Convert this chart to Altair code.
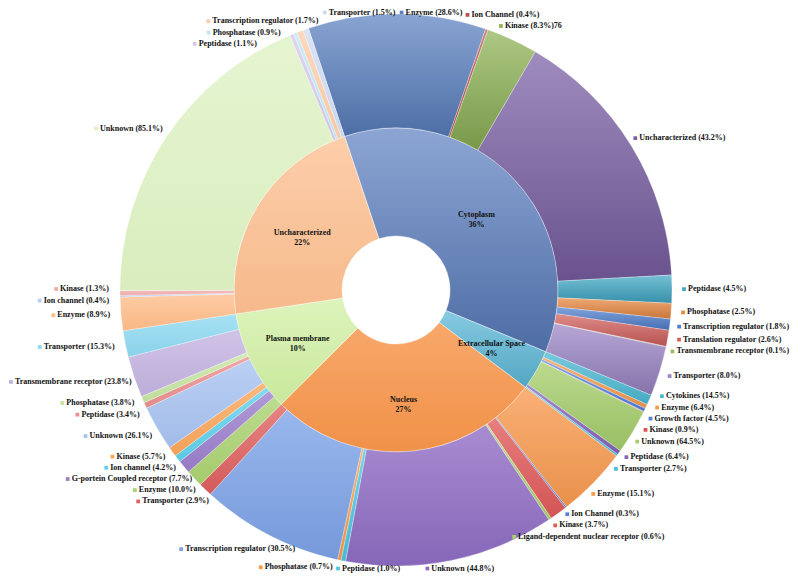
import math
import altair as alt
import pandas as pd

# ---------------- data ----------------
parents = ["Cytoplasm", "Extracellular Space", "Nucleus", "Plasma membrane", "Uncharacterized"]
parent_pct = [36, 4, 27, 10, 22]

cyt_names = ["Enzyme", "Ion Channel", "Kinase", "Uncharacterized", "Peptidase", "Phosphatase",
             "Transcription regulator", "Translation regulator", "Transmembrane receptor", "Transporter"]
cyt_pct = [28.6, 0.4, 8.3, 43.2, 4.5, 2.5, 1.8, 2.6, 0.1, 8.0]

ext_names = ["Cytokines", "Enzyme", "Growth factor", "Kinase", "Unknown", "Peptidase", "Transporter"]
ext_pct = [14.5, 6.4, 4.5, 0.9, 64.5, 6.4, 2.7]

nuc_names = ["Enzyme", "Ion Channel", "Kinase", "Ligand-dependent nuclear receptor", "Unknown",
             "Peptidase", "Phosphatase", "Transcription regulator", "Transporter"]
nuc_pct = [15.1, 0.3, 3.7, 0.6, 44.8, 1.0, 0.7, 30.5, 2.9]

pm_names = ["Enzyme", "G-portein Coupled receptor", "Ion channel", "Kinase", "Unknown", "Peptidase",
            "Phosphatase", "Transmembrane receptor", "Transporter"]
pm_pct = [10.0, 7.7, 4.2, 5.7, 26.1, 3.4, 3.8, 23.8, 15.3]

unc_names = ["Enzyme", "Ion channel", "Kinase", "Unknown", "Peptidase", "Phosphatase",
             "Transcription regulator", "Transporter"]
unc_pct = [8.9, 0.4, 1.3, 85.1, 1.1, 0.9, 1.7, 1.5]

# text exactly as printed in the original (one label carries a stray "76")
label_extra = {("Cytoplasm", "Kinase"): "76"}

# ---------------- styles ----------------
# (base colour, lighten-at-top, darken-at-bottom)
inner_colors = [("#5B7FC0", 0.30, 0.14), ("#5DB9D8", 0.25, 0.10), ("#F7954A", 0.18, 0.03),
                ("#CFEFA0", 0.30, 0.03), ("#FBBD8E", 0.25, 0.02)]
child_colors = [
    # Cytoplasm
    ["#5A80C0", "#C0504D", "#8DB255", "#7A5FA5", "#3FA8C5", "#E8883F", "#4F7FCF", "#D35F5C", "#9BBB59", "#9B85C6"],
    # Extracellular Space
    ["#4BB8D3", "#F59A4E", "#4F7FE0", "#D9534F", "#A5CE6B", "#8465BC", "#47BFDB"],
    # Nucleus
    ["#F89A50", "#5582D8", "#E05A5A", "#A8D26A", "#8F6CC4", "#4CC5E0", "#F99848", "#7CA3E8", "#E06060"],
    # Plasma membrane
    ["#A9D16F", "#9A7ECB", "#5ECFEA", "#FBA55A", "#A7C2F0", "#EB8E8E", "#C5E4A0", "#C3B2E0", "#8ED9F0"],
    # Uncharacterized
    ["#FDBB87", "#B9CCF2", "#F2AAAA", "#DDF2C2", "#D4C8EA", "#BDE6F5", "#FCCCA8", "#CFDAF0"],
]
child_grad = [(0.28, 0.14), (0.25, 0.08), (0.22, 0.06), (0.22, 0.03), (0.25, 0.02)]

W, H = 784, 566
CX, CY = 388, 282
R_HOLE, R_MID, R_OUT = 54, 162, 276
START_DEG = -18.5
FONT = "Liberation Serif"
FS = 8


def mix(hexc, other, t):
    r, g, b = (int(hexc[i:i + 2], 16) for i in (1, 3, 5))
    o = (255, 255, 255) if other == "w" else (0, 0, 0)
    r, g, b = (round(a + (c - a) * t) for a, c in zip((r, g, b), o))
    return "#%02x%02x%02x" % (r, g, b)


def grad(hexc, up, down):
    return {"gradient": "linear", "x1": 0, "y1": 0, "x2": 0, "y2": 1,
            "stops": [{"offset": 0, "color": mix(hexc, "w", up)},
                      {"offset": 1, "color": mix(hexc, "k", down)}]}


# ---------------- tables ----------------
children = [(cyt_names, cyt_pct), (ext_names, ext_pct), (nuc_names, nuc_pct),
            (pm_names, pm_pct), (unc_names, unc_pct)]

inner = pd.DataFrame({
    "idx": range(len(parents)),
    "name": parents,
    "value": parent_pct,
    "label": [f"{p}\n{v}%" for p, v in zip(parents, parent_pct)],
})

rows = []
fills = []
k = 0
for pi, (names, pcts) in enumerate(children):
    s = sum(pcts)
    for ci, (n, p) in enumerate(zip(names, pcts)):
        rows.append({
            "idx": k, "parent": parents[pi], "name": n, "pct": p,
            "value": parent_pct[pi] * p / s,
            "label": f"{n} ({p:.1f}%)" + label_extra.get((parents[pi], n), ""),
            "color": child_colors[pi][ci],
        })
        fills.append(grad(child_colors[pi][ci], *child_grad[pi]))
        k += 1
outer = pd.DataFrame(rows)
total = float(sum(parent_pct))

# ---------------- label layout (computed from the slice angles) ----------------
CW = {" ": 250, "(": 333, ")": 333, "%": 1000, ".": 250, "-": 333}
CW.update({d: 500 for d in "0123456789"})
CW.update(dict(zip("ABCDEFGHIJKLMNOPQRSTUVWXYZ",
                   [722, 667, 722, 722, 667, 611, 778, 778, 389, 500, 778, 667, 944, 722, 778, 611,
                    778, 722, 556, 667, 722, 722, 1000, 722, 722, 667])))
CW.update(dict(zip("abcdefghijklmnopqrstuvwxyz",
                   [500, 556, 444, 556, 444, 333, 500, 556, 278, 333, 556, 278, 833, 556, 500, 556,
                    556, 444, 389, 333, 556, 500, 722, 500, 500, 444])))


def text_w(s):
    return sum(CW.get(ch, 500) for ch in s) / 1000 * FS


labs = []
cum = 0.0
for v, lab in zip(outer["value"], outer["label"]):
    th = START_DEG + 360 * (cum + v / 2) / total
    cum += v
    labs.append({"t": th, "w": 7 + text_w(lab)})

RL, LH = 286, 11


def place(L):
    a = math.radians(L["t"])
    s, c = math.sin(a), math.cos(a)
    px, py = CX + RL * s, CY - RL * c
    left = px - (1 - s) / 2 * L["w"]
    yc = py - c * LH / 2
    left = min(max(left, 1), W - 1 - L["w"])
    yc = min(max(yc, LH / 2 - 1), H - LH / 2)
    return left, yc


n = len(labs)
for it in range(3000):
    boxes = [place(L) for L in labs]
    moved = False
    for i in range(n):
        li, yi = boxes[i]
        for j in range(i + 1, n):
            lj, yj = boxes[j]
            if abs(yi - yj) < LH and li < lj + labs[j]["w"] + 2 and lj < li + labs[i]["w"] + 2:
                d = (labs[j]["t"] - labs[i]["t"] + 540) % 360 - 180
                sg = 1 if d >= 0 else -1
                labs[i]["t"] -= 0.1 * sg
                labs[j]["t"] += 0.1 * sg
                moved = True
    if not moved:
        break

boxes = [place(L) for L in labs]
outer["mx"] = [b[0] + 2 for b in boxes]
outer["tx"] = [b[0] + 6 for b in boxes]
outer["ly"] = [b[1] for b in boxes]

# ---------------- chart ----------------
theta_scale = alt.Scale(domain=[0, total],
                        range=[math.radians(START_DEG), math.radians(START_DEG) + 2 * math.pi])


def cond_fill(grads):
    return alt.value("#cccccc", condition=[
        {"test": f"datum.idx === {i}", "value": g} for i, g in enumerate(grads)])


inner_arc = alt.Chart(inner).mark_arc(radius=R_MID, radius2=R_HOLE, stroke="white",
                                      strokeWidth=0.5, strokeOpacity=0.8).encode(
    theta=alt.Theta("value:Q", stack=True, scale=theta_scale),
    order=alt.Order("idx:Q", sort="ascending"),
    fill=cond_fill([grad(*c) for c in inner_colors]),
    x=alt.value(CX), y=alt.value(CY),
)

outer_arc = alt.Chart(outer).mark_arc(radius=R_OUT, radius2=R_MID, stroke="white",
                                      strokeWidth=0.4, strokeOpacity=0.7).encode(
    theta=alt.Theta("value:Q", stack=True, scale=theta_scale),
    order=alt.Order("idx:Q", sort="ascending"),
    fill=cond_fill(fills),
    x=alt.value(CX), y=alt.value(CY),
)

inner_text = alt.Chart(inner).mark_text(radius=110, align="center", baseline="middle",
                                        lineBreak="\n", font=FONT, fontSize=FS,
                                        fontWeight="bold", color="#111111").encode(
    theta=alt.Theta("value:Q", stack=True, scale=theta_scale),
    order=alt.Order("idx:Q", sort="ascending"),
    text="label:N",
    x=alt.value(CX), y=alt.value(CY),
)

markers = alt.Chart(outer).mark_square(size=14, opacity=1).encode(
    x=alt.X("mx:Q", scale=None, axis=None),
    y=alt.Y("ly:Q", scale=None, axis=None),
    fill=alt.Fill("color:N", scale=None),
)

texts = alt.Chart(outer).mark_text(align="left", baseline="middle", font=FONT, fontSize=FS,
                                   fontWeight="bold", color="#111111").encode(
    x=alt.X("tx:Q", scale=None, axis=None),
    y=alt.Y("ly:Q", scale=None, axis=None),
    text="label:N",
)

chart = alt.layer(inner_arc, outer_arc, inner_text, markers, texts).properties(
    width=W, height=H, padding=0, autosize=alt.AutoSizeParams(type="none"),
    background="white",
).configure_view(stroke=None)

chart.save("out.html", embed_options={"renderer": "svg", "actions": False})
